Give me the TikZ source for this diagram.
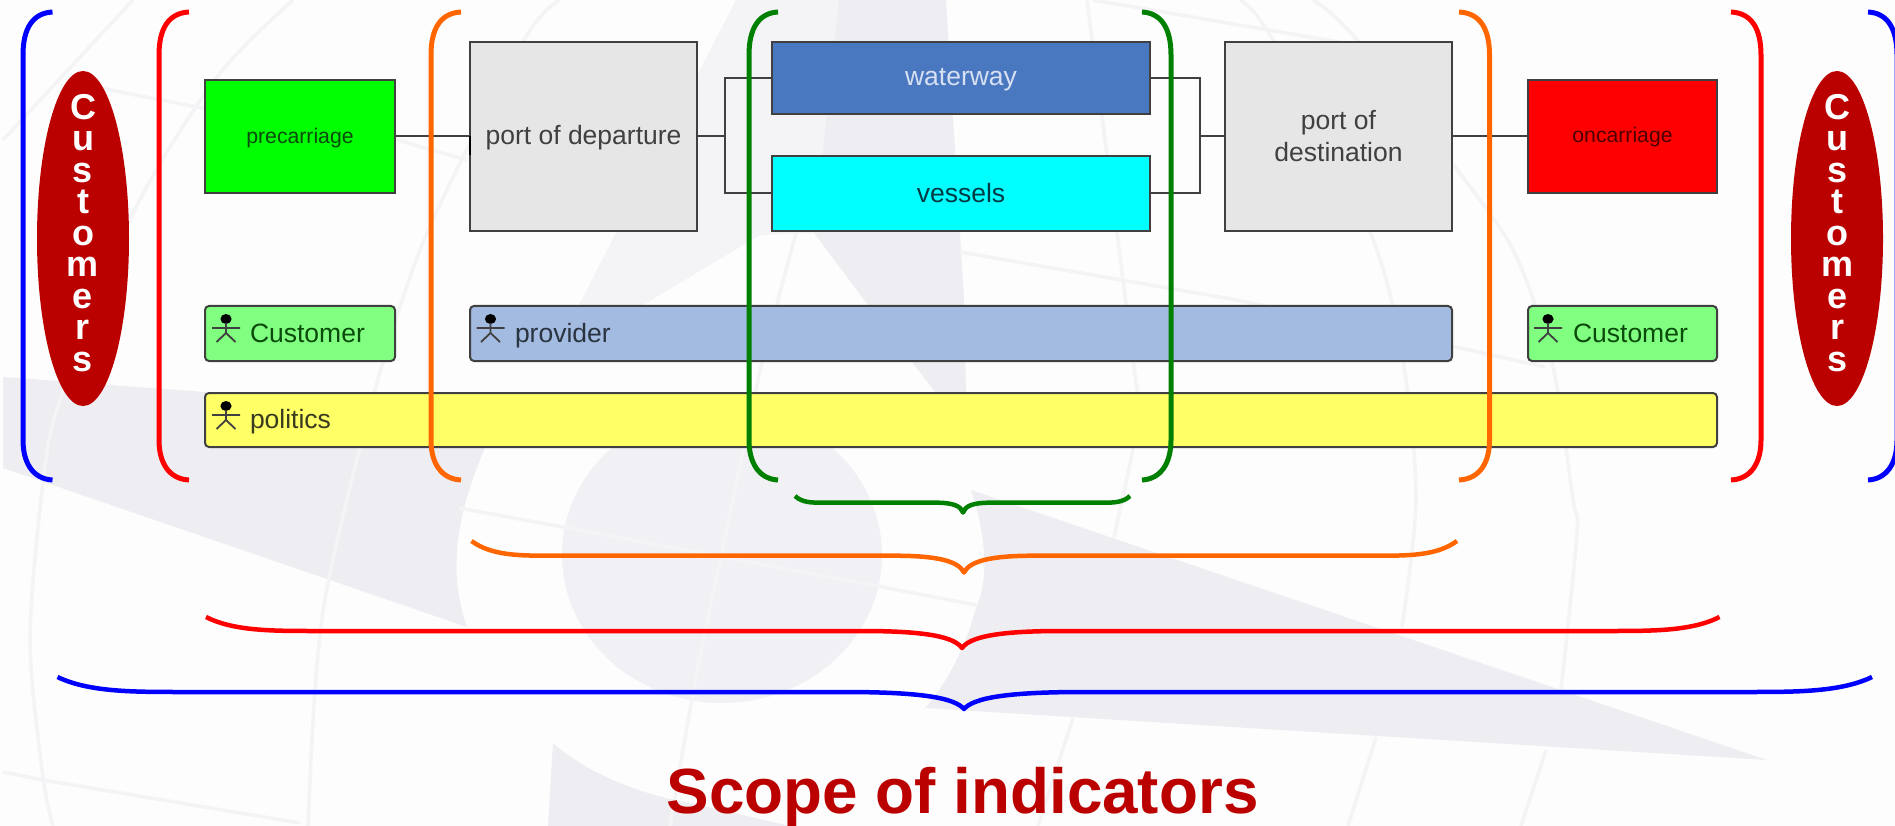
\documentclass[tikz,border=0pt]{standalone}
\usepackage{fontspec}
\setmainfont{Liberation Sans}
\usetikzlibrary{shapes.geometric}
\definecolor{bgwhite}{HTML}{FDFDFD}
\definecolor{wmdark}{HTML}{EEEEF2}
\definecolor{wmlight}{HTML}{F4F4F7}
\definecolor{wmoval}{HTML}{F1F1F5}
\definecolor{wmline}{HTML}{F4F4F6}
\definecolor{cbrickred}{HTML}{BB0000}
\definecolor{cblue}{HTML}{0000FF}
\definecolor{cred}{HTML}{FF0000}
\definecolor{corange}{HTML}{FF6600}
\definecolor{cgreen}{HTML}{008000}
\definecolor{ccyan}{HTML}{00FFFF}
\definecolor{clime}{HTML}{00FF00}
\definecolor{edgegrey}{HTML}{404040}
\definecolor{cportfill}{HTML}{E6E6E6}
\definecolor{cwaterfill}{HTML}{4A78C0}
\definecolor{cwatertext}{HTML}{D6E0F2}
\definecolor{cvesseltext}{HTML}{003A44}
\definecolor{cactorgreen}{HTML}{80FF80}
\definecolor{cprovfill}{HTML}{A3BBE0}
\definecolor{cprovtext}{HTML}{2A3340}
\definecolor{cyellow}{HTML}{FFFF66}
\definecolor{cpoltext}{HTML}{3A3A20}
\definecolor{cgreentext}{HTML}{0A4A0A}
\definecolor{credtext}{HTML}{4D0000}
% colour, xL, xR, ytip, yflat, xcentre, ybottom, end inset, centre inset
\newcommand{\hbr}[9]{%
  \draw[bracestroke,#1] (#2,#4) .. controls ({#2+0.25*#8},#5) and ({#2+0.6*#8},#5) .. ({#2+#8},#5)
    -- ({#6-#9},#5) .. controls ({#6-0.35*#9},#5) and ({#6-0.08*#9},{#5+0.35*(#7-#5)}) .. (#6,#7)
    .. controls ({#6+0.08*#9},{#5+0.35*(#7-#5)}) and ({#6+0.35*#9},#5) .. ({#6+#9},#5)
    -- ({#3-#8},#5) .. controls ({#3-0.6*#8},#5) and ({#3-0.25*#8},#5) .. (#3,#4);
}
\newcommand{\lowered}[2]{\raisebox{-#1pt}[\height][\depth]{#2}}
\tikzset{
  x=1pt,y=-1pt,
  bracketstroke/.style={line width=5pt,line cap=butt},
  bracestroke/.style={line width=4.5pt,line cap=butt,line join=round},
  wm/.style={line width=3.5pt,wmline},
  boxbase/.style={rectangle,draw=edgegrey,line width=2pt,inner sep=0pt,outer sep=0pt,align=center},
  actorbox/.style={boxbase,rounded corners=4pt,align=left,inner sep=0pt,
    text height=23pt,text depth=6pt,font=\fontsize{26.5}{32}\selectfont},
  procbox/.style={boxbase,font=\fontsize{26.5}{32}\selectfont},
  smallbox/.style={boxbase,font=\fontsize{21.2}{26}\selectfont},
  conn/.style={draw=edgegrey,line width=2pt},
  custell/.style={ellipse,fill=cbrickred,draw=none,inner sep=0pt,minimum width=92pt,minimum height=335pt},
  custtext/.style={text=white,align=center,inner sep=0pt,font=\fontsize{36}{31.5}\selectfont\bfseries},
  actor/.pic={
    \fill[black] (0,0) ellipse (5.6pt and 5pt);
    \draw[edgegrey,line width=1.8pt] (0,4) -- (0,14) (-14,9) -- (14,9) (-9.5,23) -- (0,14) -- (9.5,23);
  }
}
\begin{document}
\begin{tikzpicture}
\useasboundingbox (0,0) rectangle (1895,826);
% watermark
\fill[bgwhite] (0,0) rectangle (1895,826);
\fill[wmlight] (736,0) -- (839,0) -- (814,233) -- (760,235) -- (643,305) -- (579,305) -- cycle;
\fill[wmdark] (839,0) -- (946,0) -- (954,133) -- (964,300) -- (966,393) -- (936,393) -- (868,305) -- (814,233) -- cycle;
\fill[wmoval] (722,555) ellipse (160pt and 148pt);
\fill[wmdark] (3,377) -- (205,392) -- (500,413) .. controls (470,480) and (440,550) .. (467,627) -- (3,468) -- cycle;
\fill[wmdark] (971,490) .. controls (985,530) and (990,580) .. (976,607) .. controls (968,640) and (950,680) .. (925,708) -- (1767,760) -- cycle;
\fill[wmdark] (553,743) .. controls (590,775) and (640,795) .. (700,805) -- (790,826) -- (548,826) -- cycle;
\draw[wm] plot[smooth] coordinates {(293,0) (217,77) (133,213) (60,400) (43,483) (30,640) (43,777) (53,826)};
\draw[wm] (133,0) -- (3,140);
\draw[wm] plot[smooth] coordinates {(560,0) (524,40) (427,233) (375,390) (328,583) (315,690) (308,826)};
\draw[wm] (100,88) -- (197,107) -- (397,140) -- (467,160);
\draw[wm] (3,772) -- (43,780) -- (300,823);
\draw[wm] (459,508) -- (563,527) -- (882,587) -- (976,605);
\draw[wm] (960,252) -- (1237,300) -- (1456,347) -- (1545,367);
\draw[wm] plot[smooth] coordinates {(796,233) (761,367) (726,533) (696,677) (670,826)};
\draw[wm] plot[smooth] coordinates {(1087,0) (1134,367) (1138,420) (1114,537)};
\draw[wm] (1073,718) -- (1038,826);
\draw[wm] plot[smooth] coordinates {(1240,0) (1273,40) (1372,237) (1404,367) (1416,500) (1402,627)};
\draw[wm] (1376,737) -- (1348,826);
\draw[wm] plot[smooth] coordinates {(1313,0) (1357,40) (1485,207) (1521,267) (1553,367) (1573,500) (1577,533) (1561,690)};
\draw[wm] (1546,750) -- (1521,826);
\draw[wm] (1093,0) -- (1327,40) -- (1360,46);
% customers
\node[custell] (ell1) at (83,238.5) {};
\node[custtext] (ctxt1) at (83,233) {C\\u\\s\\t\\o\\m\\e\\r\\s};
\node[custell] (ell2) at (1837,238.5) {};
\node[custtext] (ctxt2) at (1837,233) {C\\u\\s\\t\\o\\m\\e\\r\\s};
% boxes
\node[smallbox,fill=clime,text=cgreentext,minimum width=190pt,minimum height=113pt] (pre) at (300,136.5) {\lowered{2}{precarriage}};
\node[procbox,fill=cportfill,text=edgegrey,minimum width=227pt,minimum height=189pt] (dep) at (583.5,136.5) {\lowered{1}{port of departure}};
\node[procbox,fill=cwaterfill,text=cwatertext,minimum width=378pt,minimum height=72pt] (way) at (961,78) {\lowered{2}{waterway}};
\node[procbox,fill=ccyan,text=cvesseltext,minimum width=378pt,minimum height=75pt] (ves) at (961,193.5) {vessels};
\node[procbox,fill=cportfill,text=edgegrey,minimum width=227pt,minimum height=189pt] (dest) at (1338.5,136.5) {port of\\destination};
\node[smallbox,fill=cred,text=credtext,minimum width=189pt,minimum height=113pt] (onc) at (1622.5,136.5) {\lowered{1}{oncarriage}};
\node[actorbox,fill=cactorgreen,text=cgreentext,text width=190pt,minimum height=55pt] (cust1) at (300,333.5) {\hspace*{45pt}Customer};
\node[actorbox,fill=cprovfill,text=cprovtext,text width=982pt,minimum height=55pt] (prov) at (961,333.5) {\hspace*{45pt}provider};
\node[actorbox,fill=cactorgreen,text=cgreentext,text width=189pt,minimum height=55pt] (cust2) at (1622.5,333.5) {\hspace*{45pt}Customer};
\node[actorbox,fill=cyellow,text=cpoltext,text width=1512pt,minimum height=54pt] (pol) at (961,420) {\hspace*{45pt}politics};
\pic at (226,319) {actor};
\pic at (490.5,319) {actor};
\pic at (1548,319) {actor};
\pic at (226,406) {actor};
% connectors
\coordinate (jl) at (725,136.5);
\coordinate (jr) at (1199.5,136.5);
\draw[conn] (pre.east) -- (dep.west);
\draw[black,line width=2pt] (dep.west) -- ++(0,19);
\draw[conn] (dep.east) -- (jl);
\draw[conn] (way.west) -| (jl);
\draw[conn] (ves.west) -| (jl);
\draw[conn] (way.east) -| (jr);
\draw[conn] (ves.east) -| (jr);
\draw[conn] (jr) -- (dest.west);
\draw[conn] (dest.east) -- (onc.west);
% round brackets
\foreach \xs/\xt/\cc in {23/52.5/cblue,159/189/cred,431/461/corange,749/778/cgreen}{
  \draw[bracketstroke,\cc] (\xt,12) .. controls ({\xs+10},13) and (\xs,28) .. (\xs,55) -- (\xs,440) .. controls (\xs,463) and ({\xs+10},479) .. (\xt,480);
}
\foreach \xs/\xt/\cc in {1171/1142/cgreen,1489.5/1459/corange,1761/1731/cred,1897/1868/cblue}{
  \draw[bracketstroke,\cc] (\xt,12) .. controls ({\xs-10},13) and (\xs,28) .. (\xs,55) -- (\xs,440) .. controls (\xs,463) and ({\xs-10},479) .. (\xt,480);
}
% bottom braces
\hbr{cgreen}{795}{1130}{496}{502.7}{963}{512.5}{28}{27}
\hbr{corange}{471.5}{1457}{541}{555.7}{964}{572.5}{80}{70}
\hbr{cred}{206}{1719.5}{617}{631}{962}{648}{110}{100}
\hbr{cblue}{57.5}{1872}{677}{692}{964}{709}{125}{120}
\node[anchor=base,text=cbrickred,inner sep=0pt,font=\fontsize{63.8}{70}\selectfont\bfseries] (title) at (962.5,813) {Scope of indicators};
\end{tikzpicture}
\end{document}
